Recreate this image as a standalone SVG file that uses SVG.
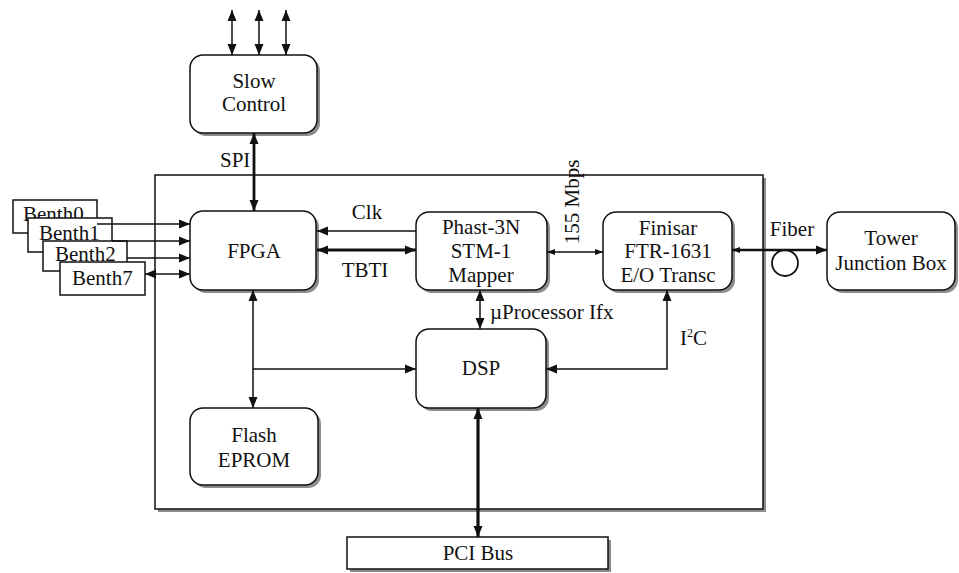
<svg xmlns="http://www.w3.org/2000/svg" width="959" height="573" viewBox="0 0 959 573" font-family="'Liberation Serif', 'Times New Roman', 'DejaVu Serif', serif">
<style>
text{font-family:'Liberation Serif','Times New Roman','DejaVu Serif',serif;font-size:21px;fill:#111}
.c{text-anchor:middle}
.box{fill:#fff;stroke:#111;stroke-width:1.5}
.sh{fill:#8c8c8c;stroke:none}
.ln{fill:none;stroke:#111;stroke-width:1.5}
.th{fill:none;stroke:#111;stroke-width:3.2}
</style>
<defs>
<marker id="a" markerUnits="userSpaceOnUse" markerWidth="12" markerHeight="10" refX="11" refY="5" orient="auto-start-reverse"><path d="M0,0.5 L11,5 L0,9.5 z" fill="#111"/></marker>
<marker id="s" markerUnits="userSpaceOnUse" markerWidth="9" markerHeight="8" refX="8" refY="4" orient="auto-start-reverse"><path d="M0,1 L8,4 L0,7 z" fill="#111"/></marker>
</defs>
<rect width="959" height="573" fill="#fff"/>
<g id="frame">
<rect x="158" y="178" width="608" height="334" class="sh"/>
<rect x="155" y="175" width="608" height="334" fill="#fff" stroke="#111" stroke-width="1.5"/>
</g>
<g id="benth0"><rect x="13" y="200" width="84" height="33" class="box"/><text x="23" y="221">Benth0</text></g>
<g id="benth1"><rect x="28" y="218" width="84" height="34" class="box"/><text x="39" y="240">Benth1</text></g>
<g id="benth2"><rect x="43" y="241" width="84" height="30" class="box"/><text x="55" y="261">Benth2</text></g>
<g id="benth7"><rect x="60" y="262" width="85" height="33" class="box"/><text x="72" y="285">Benth7</text></g>
<g id="slow"><rect x="193" y="58" width="127" height="78" rx="13" class="sh"/><rect x="190" y="55" width="127" height="78" rx="13" class="box"/><text x="254" y="88" class="c">Slow</text><text x="254" y="111" class="c">Control</text></g>
<g id="fpga"><rect x="193" y="214" width="126" height="79" rx="13" class="sh"/><rect x="190" y="211" width="126" height="79" rx="13" class="box"/><text x="254" y="258" class="c">FPGA</text></g>
<g id="phast"><rect x="419" y="215" width="131" height="78" rx="13" class="sh"/><rect x="416" y="212" width="131" height="78" rx="13" class="box"/><text x="481" y="234" class="c">Phast-3N</text><text x="481" y="258" class="c">STM-1</text><text x="481" y="282" class="c">Mapper</text></g>
<g id="finisar"><rect x="606" y="215" width="129" height="78" rx="13" class="sh"/><rect x="603" y="212" width="129" height="78" rx="13" class="box"/><text x="668" y="235" class="c">Finisar</text><text x="668" y="258" class="c">FTR-1631</text><text x="668" y="282" class="c">E/O Transc</text></g>
<g id="tower"><rect x="830" y="215" width="128" height="78" rx="13" class="sh"/><rect x="827" y="212" width="128" height="78" rx="13" class="box"/><text x="891" y="245" class="c">Tower</text><text x="891" y="270" class="c">Junction Box</text></g>
<g id="dsp"><rect x="419" y="332" width="130" height="79" rx="13" class="sh"/><rect x="416" y="329" width="130" height="79" rx="13" class="box"/><text x="481" y="375" class="c">DSP</text></g>
<g id="flash"><rect x="193" y="411" width="128" height="77" rx="13" class="sh"/><rect x="190" y="408" width="128" height="77" rx="13" class="box"/><text x="254" y="442" class="c">Flash</text><text x="254" y="467" class="c">EPROM</text></g>
<g id="pci"><rect x="350" y="540" width="261" height="32" class="sh"/><rect x="347" y="537" width="261" height="32" class="box"/><text x="478" y="560" class="c">PCI Bus</text></g>
<g id="connectors">
<line x1="232" y1="10" x2="232" y2="55" class="ln" marker-start="url(#a)" marker-end="url(#a)"/>
<line x1="259" y1="10" x2="259" y2="55" class="ln" marker-start="url(#a)" marker-end="url(#a)"/>
<line x1="286" y1="10" x2="286" y2="55" class="ln" marker-start="url(#a)" marker-end="url(#a)"/>
<line x1="254" y1="133" x2="254" y2="211" stroke="#111" stroke-width="2.8" marker-start="url(#a)" marker-end="url(#a)"/>
<line x1="97" y1="224" x2="190" y2="224" class="ln" marker-end="url(#a)"/>
<line x1="112" y1="241" x2="190" y2="241" class="ln" marker-end="url(#a)"/>
<line x1="127" y1="258" x2="190" y2="258" class="ln" marker-end="url(#a)"/>
<line x1="145" y1="274" x2="190" y2="274" class="ln" marker-start="url(#a)" marker-end="url(#a)"/>
<line x1="416" y1="231" x2="317" y2="231" class="ln" marker-end="url(#a)"/>
<line x1="317" y1="250" x2="416" y2="250" class="th" marker-start="url(#a)" marker-end="url(#a)"/>
<line x1="547" y1="252" x2="603" y2="252" class="ln" marker-start="url(#s)" marker-end="url(#s)"/>
<line x1="732" y1="250" x2="827" y2="250" stroke="#111" stroke-width="2.5" marker-start="url(#s)" marker-end="url(#a)"/>
<circle cx="785" cy="263" r="13" fill="none" stroke="#111" stroke-width="1.8"/>
<line x1="480" y1="290" x2="480" y2="329" class="ln" marker-start="url(#a)" marker-end="url(#a)"/>
<line x1="253" y1="290" x2="253" y2="408" class="ln" marker-start="url(#a)" marker-end="url(#a)"/>
<line x1="253" y1="369" x2="416" y2="369" class="ln" marker-end="url(#a)"/>
<path d="M667,290 V369 H546" class="ln" marker-start="url(#a)" marker-end="url(#a)"/>
<line x1="478" y1="408" x2="478" y2="537" class="th" marker-start="url(#a)" marker-end="url(#a)"/>
</g>
<g id="labels">
<text x="220" y="167">SPI</text>
<text x="367" y="219" class="c">Clk</text>
<text x="365" y="277" class="c">TBTI</text>
<text transform="translate(579,202) rotate(-90)" class="c">155 Mbps</text>
<text x="792" y="236" class="c">Fiber</text>
<text x="490" y="319">µProcessor Ifx</text>
<text x="680" y="345">I<tspan font-size="12" dy="-8">2</tspan><tspan dy="8">C</tspan></text>
</g>
</svg>
